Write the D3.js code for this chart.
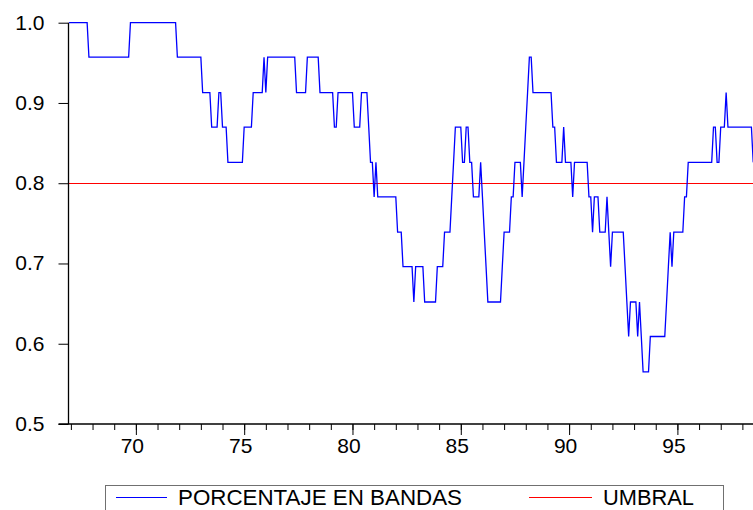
<!DOCTYPE html>
<html>
<head>
<meta charset="utf-8">
<script src="https://cdn.jsdelivr.net/npm/d3@7"></script>
<style>
  html, body { margin: 0; padding: 0; background: #fff; }
  svg { display: block; }
  text { font-family: "Liberation Sans", Arial, sans-serif; fill: #000; }
</style>
</head>
<body>
<svg id="chart" width="753" height="510"></svg>
<script>
// Monthly series "PORCENTAJE EN BANDAS": start month of each run of equal values
const runStart = [
  "1966-12","1967-11","1969-10","1971-12","1973-02","1973-07","1973-11","1974-01","1974-04","1975-01",
  "1975-06","1975-12","1976-01","1976-02","1977-06","1977-12","1978-07","1979-03","1979-05","1980-02",
  "1980-06","1980-10","1980-11","1981-01","1981-02","1981-03","1982-02","1982-05","1982-11","1982-12",
  "1983-05","1983-12","1984-04","1984-08","1984-09","1984-10","1985-02","1985-04","1985-06","1985-08",
  "1985-12","1986-01","1986-02","1986-03","1986-04","1986-12","1987-01","1987-05","1987-07","1987-11",
  "1987-12","1988-01","1988-02","1988-03","1988-05","1989-04","1989-06","1989-10","1989-11","1990-03",
  "1990-04","1990-12","1991-02","1991-03","1991-06","1991-10","1991-11","1991-12","1992-01","1992-08",
  "1992-09","1992-10","1992-11","1993-03","1993-04","1993-05","1993-06","1993-10","1994-07","1994-08",
  "1994-09","1994-10","1994-11","1995-05","1995-07","1996-09","1996-11","1997-01","1997-04","1997-05",
  "1998-07"
];
const runValue = [
  1.000,0.957,1.000,0.957,0.913,0.870,0.913,0.870,0.826,0.870,
  0.913,0.957,0.913,0.957,0.913,0.957,0.913,0.870,0.913,0.870,
  0.913,0.870,0.826,0.783,0.826,0.783,0.739,0.696,0.652,0.696,
  0.652,0.696,0.739,0.783,0.826,0.870,0.826,0.870,0.826,0.783,
  0.826,0.783,0.739,0.696,0.652,0.696,0.739,0.783,0.826,0.783,
  0.826,0.870,0.913,0.957,0.913,0.870,0.826,0.870,0.826,0.783,
  0.826,0.783,0.739,0.783,0.739,0.783,0.739,0.696,0.739,0.696,
  0.652,0.609,0.652,0.609,0.652,0.609,0.565,0.609,0.652,0.696,
  0.739,0.696,0.739,0.783,0.826,0.870,0.826,0.870,0.913,0.870,
  0.826
];
const lastObs = "1998-07";
// Threshold series "UMBRAL"
const umbral = [0.8];
// Axis ticks
const yTicks = [0.5, 0.6, 0.7, 0.8, 0.9, 1.0];
const xMajorTicks = [1970, 1975, 1980, 1985, 1990, 1995];
const xMinorTicks = d3.range(1967, 1999);
const legendLabels = ["PORCENTAJE EN BANDAS", "UMBRAL"];
const legendColors = ["#0000ff", "#ff0000"];

const toYear = s => { const [y, m] = s.split("-").map(Number); return y + (m - 1) / 12; };

// build the polyline vertices of the monthly series
const pts = [];
runStart.forEach((s, i) => {
  const t0 = toYear(s);
  const t1 = i < runStart.length - 1 ? toYear(runStart[i + 1]) - 1 / 12 : toYear(lastObs);
  pts.push([t0, runValue[i]]);
  if (t1 > t0 + 1e-6) pts.push([t1, runValue[i]]);
});

const svg = d3.select("#chart");
svg.append("rect").attr("width", 753).attr("height", 510).attr("fill", "#fff");

const L = 68.5, R = 753, T = 22.7, B = 424;
const x = d3.scaleLinear().domain([1966.89, 1998.49]).range([L, R]);
const y = d3.scaleLinear().domain([0.5, 1.0]).range([B, T]);

// threshold line
svg.append("line")
  .attr("x1", L).attr("x2", R)
  .attr("y1", Math.round(y(umbral[0])) + 0.5).attr("y2", Math.round(y(umbral[0])) + 0.5)
  .attr("stroke", legendColors[1]).attr("stroke-width", 1)
  .attr("shape-rendering", "crispEdges");

// main series
svg.append("path")
  .datum(pts)
  .attr("fill", "none")
  .attr("stroke", legendColors[0])
  .attr("stroke-width", 1.3)
  .attr("stroke-linejoin", "miter")
  .attr("d", d3.line().x(d => x(d[0])).y(d => y(d[1])));

// Y axis
const yAxis = d3.axisLeft(y).tickValues(yTicks).tickSize(10).tickPadding(14)
  .tickFormat(d3.format(".1f"));
const gy = svg.append("g").attr("transform", `translate(${L},0)`).call(yAxis);
gy.select(".domain").attr("d", `M0,${T}V${B}`).attr("stroke", "#000").attr("stroke-width", 1.3);
gy.selectAll(".tick line").attr("stroke", "#000");
gy.selectAll(".tick text").attr("font-size", 21).attr("font-family", "Liberation Sans, Arial, sans-serif")
  .attr("dy", "0.3em");

// X axis: minor ticks
const xMinor = d3.axisBottom(x).tickValues(xMinorTicks).tickSize(6).tickFormat("");
const gxm = svg.append("g").attr("transform", `translate(0,${B})`).call(xMinor);
gxm.select(".domain").remove();
gxm.selectAll(".tick line").attr("stroke", "#000");

// X axis: major ticks with labels
const xAxis = d3.axisBottom(x).tickValues(xMajorTicks).tickSize(11).tickPadding(2)
  .tickFormat(d => String(d % 100).padStart(2, "0"));
const gx = svg.append("g").attr("transform", `translate(0,${B})`).call(xAxis);
gx.select(".domain").attr("d", `M${L - 10},0H${R}`).attr("stroke", "#000").attr("stroke-width", 1.3);
gx.selectAll(".tick line").attr("stroke", "#000");
gx.selectAll(".tick text").attr("font-size", 21).attr("font-family", "Liberation Sans, Arial, sans-serif")
  .attr("dx", -4).attr("dy", "0.75em");

// Legend
const lg = svg.append("g");
lg.append("rect").attr("x", 105.5).attr("y", 485.5).attr("width", 618).attr("height", 40)
  .attr("fill", "#fff").attr("stroke", "#707070").attr("stroke-width", 1);
const items = [{x1: 116, x2: 167, tx: 178}, {x1: 529, x2: 592, tx: 603}];
items.forEach((it, i) => {
  lg.append("line").attr("x1", it.x1).attr("x2", it.x2).attr("y1", 497.5).attr("y2", 497.5)
    .attr("stroke", legendColors[i]).attr("stroke-width", 1);
  lg.append("text").attr("x", it.tx).attr("y", 505).attr("font-size", 22)
    .attr("textLength", i === 0 ? 284 : 91).attr("lengthAdjust", "spacingAndGlyphs")
    .text(legendLabels[i]);
});
</script>
</body>
</html>
